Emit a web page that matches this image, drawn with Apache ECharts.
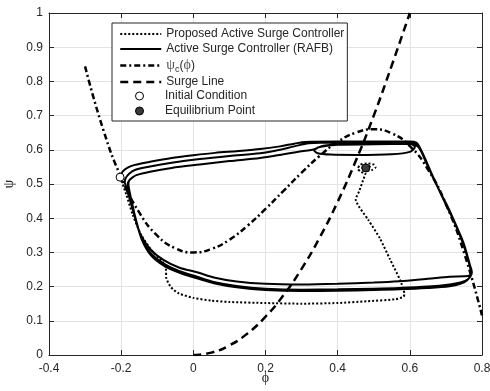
<!DOCTYPE html>
<html>
<head>
<meta charset="utf-8">
<script src="https://cdn.jsdelivr.net/npm/echarts@6/dist/echarts.min.js"></script>
<style>
  html, body { margin: 0; padding: 0; background: #fff; }
  #chart { width: 490px; height: 391px; }
</style>
</head>
<body>
<div id="chart"></div>
<script>
// axis ranges (phi on x, psi on y)
const phiMin = -0.4, phiMax = 0.8, phiStep = 0.2;
const psiMin = 0, psiMax = 1, psiStep = 0.1;

// legend names
const nameProposed = 'Proposed Active Surge Controller';
const nameRafb = 'Active Surge Controller (RAFB)';
const namePsiC = 'ψc(ϕ)';
const nameSurge = 'Surge Line';
const nameInit = 'Initial Condition';
const nameEq = 'Equilibrium Point';

// compressor characteristic psi_c(phi)
const psiC = [
  [-0.30, 0.844], [-0.25, 0.660], [-0.20, 0.519], [-0.15, 0.417], [-0.10, 0.349],
  [-0.05, 0.312], [0.00, 0.300], [0.05, 0.310], [0.10, 0.337], [0.15, 0.378],
  [0.20, 0.427], [0.25, 0.480], [0.30, 0.533], [0.35, 0.582], [0.40, 0.623],
  [0.45, 0.650], [0.50, 0.660], [0.55, 0.648], [0.60, 0.611], [0.65, 0.543],
  [0.70, 0.441], [0.75, 0.300], [0.80, 0.116]
];

// surge line
const surgeLine = [
  [0.00, 0.000], [0.05, 0.007], [0.10, 0.028], [0.15, 0.063], [0.20, 0.112],
  [0.25, 0.175], [0.30, 0.252], [0.35, 0.343], [0.40, 0.448], [0.45, 0.567],
  [0.50, 0.700], [0.55, 0.847], [0.60, 1.000]
];

// RAFB controller trajectory (converging onto the surge cycle)
const rafbPath = [
  // loop 1
  [-0.203, 0.520], [-0.196, 0.536], [-0.182, 0.548], [-0.162, 0.556], [-0.12, 0.565],
  [-0.06, 0.576], [0.00, 0.584], [0.06, 0.591], [0.12, 0.596], [0.185, 0.602],
  [0.24, 0.610], [0.28, 0.618], [0.31, 0.623], [0.40, 0.624], [0.50, 0.624],
  [0.60, 0.624], [0.618, 0.621], [0.628, 0.606], [0.638, 0.584], [0.650, 0.556],
  [0.662, 0.526], [0.676, 0.494], [0.692, 0.458], [0.708, 0.424], [0.724, 0.388],
  [0.738, 0.352], [0.752, 0.312], [0.764, 0.270], [0.772, 0.242], [0.768, 0.233],
  [0.75, 0.230], [0.71, 0.229], [0.65, 0.223], [0.57, 0.216], [0.50, 0.212],
  [0.40, 0.208], [0.30, 0.206], [0.20, 0.208], [0.12, 0.215], [0.06, 0.226],
  [0.01, 0.242], [-0.04, 0.256], [-0.083, 0.278], [-0.12, 0.310], [-0.148, 0.356],
  [-0.164, 0.410], [-0.176, 0.455], [-0.186, 0.490], [-0.190, 0.505],
  // loop 2
  [-0.188, 0.516], [-0.178, 0.530], [-0.162, 0.541], [-0.12, 0.551], [-0.06, 0.562],
  [0.018, 0.573], [0.10, 0.582], [0.185, 0.590], [0.24, 0.600], [0.28, 0.610],
  [0.32, 0.619], [0.40, 0.621], [0.50, 0.621], [0.60, 0.621], [0.620, 0.614],
  [0.632, 0.594], [0.642, 0.570], [0.654, 0.542], [0.668, 0.510], [0.684, 0.476],
  [0.698, 0.444], [0.714, 0.410], [0.730, 0.372], [0.744, 0.336], [0.757, 0.295],
  [0.767, 0.256], [0.770, 0.236], [0.762, 0.222], [0.74, 0.212], [0.71, 0.206],
  [0.65, 0.200], [0.57, 0.196], [0.50, 0.194], [0.40, 0.192], [0.30, 0.191],
  [0.20, 0.194], [0.12, 0.202], [0.06, 0.213], [0.01, 0.229], [-0.04, 0.246],
  [-0.083, 0.268], [-0.12, 0.300], [-0.145, 0.345], [-0.160, 0.400], [-0.172, 0.450],
  [-0.180, 0.485], [-0.182, 0.500],
  // loop 3
  [-0.178, 0.510], [-0.170, 0.518], [-0.158, 0.526], [-0.12, 0.536], [-0.06, 0.547],
  [0.018, 0.557], [0.10, 0.567], [0.185, 0.576], [0.25, 0.587], [0.30, 0.596],
  [0.33, 0.600], [0.36, 0.612], [0.42, 0.617], [0.52, 0.618], [0.60, 0.618],
  [0.614, 0.608], [0.60, 0.594], [0.55, 0.587], [0.45, 0.585], [0.38, 0.586],
  [0.345, 0.590], [0.335, 0.598], [0.35, 0.608], [0.40, 0.615], [0.50, 0.616],
  [0.60, 0.617], [0.622, 0.610], [0.634, 0.590], [0.645, 0.566], [0.658, 0.536],
  [0.671, 0.506], [0.686, 0.472], [0.702, 0.440], [0.718, 0.404], [0.733, 0.368],
  [0.748, 0.330], [0.760, 0.288], [0.768, 0.252], [0.768, 0.234], [0.758, 0.218],
  [0.74, 0.208], [0.71, 0.201], [0.65, 0.196], [0.57, 0.192], [0.50, 0.190],
  [0.40, 0.188], [0.30, 0.187], [0.20, 0.190], [0.12, 0.198], [0.06, 0.209],
  [0.01, 0.224], [-0.04, 0.241], [-0.083, 0.262], [-0.118, 0.292], [-0.142, 0.335],
  [-0.158, 0.390], [-0.170, 0.445], [-0.178, 0.485], [-0.180, 0.500], [-0.178, 0.510]
];

// proposed controller trajectory (settles at the equilibrium)
const proposedPath = [
  [-0.203, 0.520], [-0.186, 0.470], [-0.168, 0.410], [-0.145, 0.352], [-0.115, 0.305],
  [-0.085, 0.272], [-0.076, 0.255], [-0.075, 0.225], [-0.062, 0.198], [-0.04, 0.180],
  [0.00, 0.167], [0.05, 0.159], [0.10, 0.155], [0.20, 0.152], [0.30, 0.150],
  [0.40, 0.152], [0.48, 0.157], [0.56, 0.163], [0.582, 0.170], [0.585, 0.178],
  [0.573, 0.219], [0.545, 0.280], [0.517, 0.341], [0.485, 0.395], [0.450, 0.455],
  [0.460, 0.480], [0.470, 0.510], [0.477, 0.532], [0.465, 0.535], [0.456, 0.545],
  [0.462, 0.556], [0.480, 0.560], [0.500, 0.557], [0.505, 0.549], [0.495, 0.541],
  [0.480, 0.539], [0.468, 0.544], [0.470, 0.552], [0.485, 0.553], [0.492, 0.548],
  [0.482, 0.545]
];

const initialPoint = [[-0.203, 0.520]];
const equilibriumPoint = [[0.478, 0.547]];

const font = 'Liberation Sans, Arial, sans-serif';
const ink = '#262626';

function lineSeries(name, data, width, dash, smooth) {
  return {
    name: name,
    type: 'line',
    data: data,
    symbol: 'none',
    showSymbol: false,
    smooth: smooth,
    silent: true,
    animation: false,
    lineStyle: { color: '#000', width: width, type: dash, cap: 'butt' },
    itemStyle: { color: '#000' }
  };
}

// a single marker, drawn as a line series so the legend icon is centred
function markerSeries(name, data, fill) {
  return {
    name: name,
    type: 'line',
    data: data,
    symbol: 'circle',
    symbolSize: 8,
    showSymbol: true,
    silent: true,
    animation: false,
    lineStyle: { width: 0, opacity: 0 },
    itemStyle: { color: fill, borderColor: '#000', borderWidth: 1 },
    z: 3
  };
}

function frameAxis(position, isX) {
  let ax = {
    type: 'value',
    position: position,
    min: isX ? phiMin : psiMin,
    max: isX ? phiMax : psiMax,
    interval: isX ? phiStep : psiStep,
    axisLine: { show: true, onZero: false, lineStyle: { color: ink, width: 1 } },
    axisTick: { show: true, inside: true, length: 5, lineStyle: { color: ink } },
    axisLabel: { show: false },
    splitLine: { show: false }
  };
  return ax;
}

let xMain = frameAxis('bottom', true);
xMain.axisLabel = { show: true, margin: 8, fontSize: 12, color: ink, fontFamily: font };
xMain.splitLine = { show: true, lineStyle: { color: '#e3e3e3', width: 1 } };
xMain.name = 'ϕ';
xMain.nameLocation = 'middle';
xMain.nameGap = 16;
xMain.nameMoveOverlap = false;
xMain.nameTextStyle = { fontFamily: 'Liberation Serif, serif', fontSize: 14, color: ink };

let yMain = frameAxis('left', false);
yMain.axisLabel = { show: true, margin: 6, fontSize: 12, color: ink, fontFamily: font };
yMain.splitLine = { show: true, lineStyle: { color: '#e3e3e3', width: 1 } };
yMain.name = 'ψ';
yMain.nameLocation = 'middle';
yMain.nameGap = 33;
yMain.nameMoveOverlap = false;
yMain.nameTextStyle = { fontFamily: 'Liberation Serif, serif', fontSize: 14, color: ink };

const chart = echarts.init(document.getElementById('chart'), null, { renderer: 'canvas' });

chart.setOption({
  animation: false,
  backgroundColor: '#fff',
  grid: { left: 49, right: 8, top: 13, bottom: 36, containLabel: false, outerBoundsMode: 'none' },
  xAxis: [xMain, frameAxis('top', true)],
  yAxis: [yMain, frameAxis('right', false)],
  legend: [
    {
      data: [nameProposed, nameRafb, namePsiC, nameSurge],
      orient: 'vertical',
      left: 112,
      top: 23,
      padding: [4, 3, 32, 7],
      itemWidth: 41,
      itemHeight: 14,
      itemGap: 1,
      selectedMode: false,
      backgroundColor: '#fff',
      borderColor: ink,
      borderWidth: 1,
      borderRadius: 0,
      z: 4,
      itemStyle: { opacity: 0 },
      lineStyle: { width: 'inherit' },
      formatter: function (name) {
        if (name === namePsiC) {
          return '{g|ψ}{s|c}{n|(}{g|ϕ}{n|)}';
        }
        return name;
      },
      textStyle: {
        fontFamily: font, fontSize: 12, color: ink, lineHeight: 14,
        rich: {
          g: { fontFamily: 'Liberation Serif, serif', fontSize: 14, color: '#555', lineHeight: 17 },
          s: { fontFamily: font, fontSize: 9, color: ink, lineHeight: 8, verticalAlign: 'bottom' },
          n: { fontFamily: font, fontSize: 12, color: ink, lineHeight: 17 }
        }
      }
    },
    {
      data: [nameInit, nameEq],
      orient: 'vertical',
      left: 112,
      top: 89,
      padding: [0, 3, 0, 7],
      itemWidth: 41,
      itemHeight: 10,
      itemGap: 1,
      selectedMode: false,
      z: 5,
      itemStyle: { borderWidth: 1 },
      lineStyle: { width: 0, opacity: 0 },
      textStyle: { fontFamily: font, fontSize: 12, color: ink, lineHeight: 14 }
    }
  ],
  series: [
    lineSeries(nameProposed, proposedPath, 2, [2, 2], 0.2),
    lineSeries(nameRafb, rafbPath, 2, 'solid', 0.3),
    lineSeries(namePsiC, psiC, 2.5, [6, 3, 2, 3], 0.5),
    lineSeries(nameSurge, surgeLine, 2.5, [8, 5], 0.5),
    markerSeries(nameInit, initialPoint, '#fff'),
    markerSeries(nameEq, equilibriumPoint, '#3a3a3a')
  ]
});
</script>
</body>
</html>
